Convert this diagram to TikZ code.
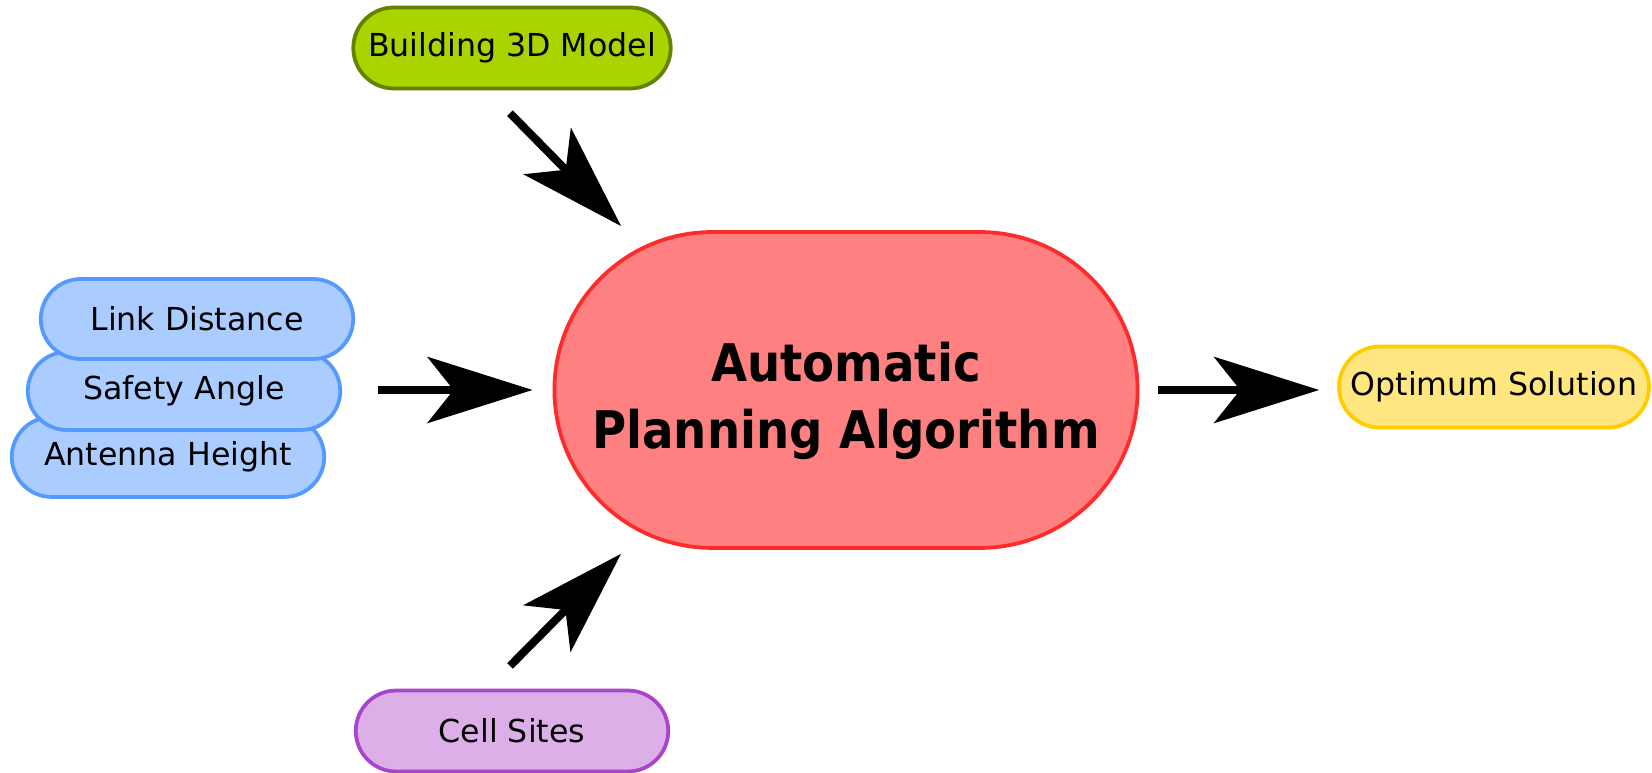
\documentclass[tikz,border=0pt]{standalone}
\usepackage{fontspec}
\setmainfont{DejaVu Sans}
\newfontfamily\headfont{DejaVu Sans Condensed}
\usepackage{tikz}
\usetikzlibrary{arrows.meta,calc,positioning,shapes.misc}
\definecolor{algfill}{RGB}{255,128,128}
\definecolor{algline}{RGB}{255,42,42}
\definecolor{bldfill}{RGB}{170,212,0}
\definecolor{bldline}{RGB}{102,128,0}
\definecolor{parfill}{RGB}{170,204,255}
\definecolor{parline}{RGB}{85,153,255}
\definecolor{optfill}{RGB}{255,230,128}
\definecolor{optline}{RGB}{255,204,0}
\definecolor{cellfill}{RGB}{221,175,233}
\definecolor{cellline}{RGB}{170,68,204}

\begin{document}
\begin{tikzpicture}[x=0.02cm,y=0.02cm,
  pill/.style={rounded rectangle,draw,line width=0.075cm,inner sep=0pt,
    minimum width=6.25cm,minimum height=1.62cm,font=\fontsize{18}{21}\selectfont},
  bigarrow/.style={-{Stealth[length=2.1cm,width=1.32cm,inset=0.52cm]},line width=0.16cm}]
  \useasboundingbox (0,0) rectangle (1652,773);
  % inputs
  \node[pill,fill=bldfill,draw=bldline,minimum width=6.35cm] (build) at (512,725) {Building 3D Model};
  \node[pill,fill=parfill,draw=parline,minimum height=1.6cm] (antenna) at (168,316) {Antenna Height};
  \node[pill,fill=parfill,draw=parline,minimum height=1.56cm] (safety) at (184,382) {Safety Angle};
  \node[pill,fill=parfill,draw=parline,minimum height=1.6cm] (link) at (197,454) {Link Distance};
  \node[pill,fill=cellfill,draw=cellline] (cells) at (512,42) {Cell Sites};
  % algorithm and output
  \node[rounded rectangle,draw=algline,fill=algfill,line width=0.075cm,minimum width=11.9cm,minimum height=6.32cm,
    align=center,text height=67pt,text depth=0pt,font=\headfont\bfseries\fontsize{29.5}{38.6}\selectfont] (main) at (846,383) {Automatic\\Planning Algorithm};
  \node[pill,fill=optfill,draw=optline,minimum width=6.2cm] (opt) at (1494,386) {Optimum Solution};
  % arrows
  \draw[bigarrow,shorten <=0.64cm,shorten >=0.58cm] (build.240) -- (main.145);
  \draw[bigarrow,shorten <=0.72cm,shorten >=0.4cm] (main.west -| safety.east) -- (main.west);
  \draw[bigarrow,shorten <=0.64cm,shorten >=0.58cm] (cells.120) -- (main.215);
  \draw[bigarrow,shorten <=0.38cm,shorten >=0.36cm] (main.east) -- (main.east -| opt.west);
\end{tikzpicture}
\end{document}
